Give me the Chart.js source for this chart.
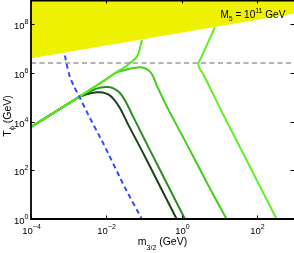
<!DOCTYPE html>
<html><head><meta charset="utf-8">
<script src="https://cdn.jsdelivr.net/npm/chart.js@4.4.0/dist/chart.umd.min.js"></script>
<style>html,body{margin:0;padding:0;background:#fff;}#wrap{width:294px;height:253px;position:relative;}</style>
</head><body><div id="wrap"><canvas id="c"></canvas></div>
<script>
// tick exponents (labels are 10^e)
const xTickExp = [-4, -2, 0, 2];
const yTickExp = [0, 2, 4, 6, 8];

// all values as log10(m_3/2 / GeV) and log10(T / GeV)
const darkLogM = [-4, -3.5, -3.0, -2.7, -2.45, -2.25, -2.1, -1.95, -1.8, -1.64, -1.42, -1.064, -0.6, -0.135];
const darkLogT = [3.78, 4.26, 4.75, 5.03, 5.16, 5.21, 5.2, 5.12, 4.92, 4.56, 3.88, 2.83, 1.42, 0];

const midLogM = [-4, -3.0, -2.6, -2.35, -2.15, -1.95, -1.8, -1.65, -1.5, -1.3, -0.843, -0.4, 0.085];
const midLogT = [3.78, 4.75, 5.12, 5.3, 5.4, 5.42, 5.36, 5.2, 4.86, 4.24, 2.83, 1.48, 0];

const lightLogM = [-4, -3, -2, -1.73, -1.5, -1.3, -1.1, -0.95, -0.8, -0.65, -0.4, 0.218, 0.7, 1.19];
const lightLogT = [3.78, 4.75, 5.75, 6.02, 6.12, 6.2, 6.24, 6.18, 5.98, 5.45, 4.64, 2.83, 1.4, 0];

const upLogM = [-4, -3, -2, -1.73, -1.55, -1.374, -1.196, -1.12, -1.056];
const upLogT = [3.78, 4.75, 5.75, 6.04, 6.2, 6.41, 6.65, 6.95, 7.36];

const rightLogM = [0.881, 0.72, 0.58, 0.48, 0.44, 0.47, 0.56, 0.68, 0.85, 1.1, 1.544, 2.0, 2.517];
const rightLogT = [7.88, 7.33, 6.85, 6.53, 6.4, 6.2, 5.98, 5.62, 5.08, 4.3, 2.96, 1.57, 0];

const blueLogM = [-3.10, -3.06, -2.97, -2.85, -2.70, -2.48, -2.08, -1.50, -1.06];
const blueLogT = [6.72, 6.40, 5.85, 5.42, 4.98, 4.28, 3.10, 1.27, 0];

const boundLogM = [-4, 3];
const boundLogT = [6.61, 8.45];

const grayLogM = [-4, 3];
const grayLogT = [6.41, 6.41];

const pts = (lm, lt) => lm.map((v, i) => ({x: Math.pow(10, v), y: Math.pow(10, lt[i])}));

const FONT = '"Liberation Sans", Arial, sans-serif';

function supText(ctx, base, exp, x, y, align, bs, es, rise) {
  ctx.font = bs + 'px ' + FONT;
  const wb = ctx.measureText(base).width;
  ctx.font = es + 'px ' + FONT;
  const we = ctx.measureText(exp).width;
  const tot = wb + we;
  let sx = align === 'center' ? x - tot / 2 : (align === 'right' ? x - tot : x);
  ctx.textAlign = 'left';
  ctx.textBaseline = 'alphabetic';
  ctx.font = bs + 'px ' + FONT;
  ctx.fillText(base, sx, y);
  ctx.font = es + 'px ' + FONT;
  ctx.fillText(exp, sx + wb, y - rise);
  return sx + tot;
}

const deco = {
  id: 'deco',
  afterDraw(chart) {
    const ctx = chart.ctx, a = chart.chartArea, xs = chart.scales.x, ys = chart.scales.y;
    ctx.save();
    ctx.fillStyle = '#000';
    ctx.strokeStyle = '#000';
    // ticks
    ctx.lineWidth = 1;
    xTickExp.forEach(e => {
      const px = Math.round(xs.getPixelForValue(Math.pow(10, e))) + 0.5;
      ctx.beginPath();
      ctx.moveTo(px, a.bottom); ctx.lineTo(px, a.bottom - 3.5);
      ctx.moveTo(px, a.top); ctx.lineTo(px, a.top + 3.5);
      ctx.stroke();
      supText(ctx, '10', String(e).replace('-', '\u2212'), px, a.bottom + 14.5, 'center', 9.5, 7, 5);
    });
    yTickExp.forEach(e => {
      const py = Math.round(ys.getPixelForValue(Math.pow(10, e))) + 0.5;
      ctx.beginPath();
      ctx.moveTo(a.left, py); ctx.lineTo(a.left + 3.5, py);
      ctx.moveTo(a.right, py); ctx.lineTo(a.right - 3.5, py);
      ctx.stroke();
      supText(ctx, '10', String(e), 28.5, py + 4.5, 'right', 9.5, 7, 5);
    });
    // box
    ctx.lineWidth = 1.8;
    ctx.beginPath();
    ctx.moveTo(a.right, a.top + 0.6);
    ctx.lineTo(a.left, a.top + 0.6);
    ctx.lineTo(a.left, a.bottom);
    ctx.lineTo(a.right, a.bottom);
    ctx.stroke();
    // x title
    ctx.textAlign = 'left'; ctx.textBaseline = 'alphabetic';
    ctx.font = '10.5px ' + FONT;
    const w1 = ctx.measureText('m').width;
    ctx.font = '7px ' + FONT;
    const w2 = ctx.measureText('3/2').width;
    ctx.font = '10.5px ' + FONT;
    const w3 = ctx.measureText(' (GeV)').width;
    let sx = (a.left + a.right) / 2 - (w1 + w2 + w3) / 2;
    ctx.fillText('m', sx, 245);
    ctx.font = '7px ' + FONT;
    ctx.fillText('3/2', sx + w1, 249.5);
    ctx.font = '10.5px ' + FONT;
    ctx.fillText(' (GeV)', sx + w1 + w2, 245);
    // y title
    ctx.save();
    ctx.translate(11, 116);
    ctx.rotate(-Math.PI / 2);
    ctx.font = '10.5px ' + FONT;
    const t1 = ctx.measureText('T').width;
    ctx.font = '7.5px ' + FONT;
    const t2 = ctx.measureText('\u03d5').width;
    ctx.font = '10.5px ' + FONT;
    const t3 = ctx.measureText(' (GeV)').width;
    let s = -(t1 + t2 + t3) / 2;
    ctx.fillText('T', s, 0);
    ctx.font = '7.5px ' + FONT;
    ctx.fillText('\u03d5', s + t1, 3);
    ctx.font = '10.5px ' + FONT;
    ctx.fillText(' (GeV)', s + t1 + t2, 0);
    ctx.restore();
    // M5 annotation
    ctx.font = '10px ' + FONT;
    let x0 = 220.5;
    ctx.fillText('M', x0, 17.5);
    x0 += ctx.measureText('M').width;
    ctx.font = '7px ' + FONT;
    ctx.fillText('5', x0, 21);
    x0 += ctx.measureText('5').width;
    ctx.font = '10px ' + FONT;
    ctx.fillText(' = 10', x0, 17.5);
    x0 += ctx.measureText(' = 10').width;
    ctx.font = '7px ' + FONT;
    ctx.fillText('11', x0, 12.5);
    x0 += ctx.measureText('11').width;
    ctx.font = '10px ' + FONT;
    ctx.fillText(' GeV', x0, 17.5);
    ctx.restore();
  }
};

const line = (lm, lt, color, extra) => Object.assign({
  data: pts(lm, lt), borderColor: color, borderWidth: 2, pointRadius: 0,
  fill: false, tension: 0.35
}, extra || {});

new Chart(document.getElementById('c'), {
  type: 'line',
  data: {
    datasets: [
      {data: pts(boundLogM, boundLogT), borderWidth: 0, borderColor: 'rgba(0,0,0,0)', pointRadius: 0,
       backgroundColor: '#eef200', fill: 'end', tension: 0},
      line(grayLogM, grayLogT, '#9a9a9a', {borderWidth: 1.4, borderDash: [5, 3.5], tension: 0}),
      line(blueLogM, blueLogT, '#2f4dff', {borderDash: [5, 3.5], tension: 0.2}),
      line(rightLogM, rightLogT, '#62ee22'),
      line(upLogM, upLogT, '#55e81c'),
      line(lightLogM, lightLogT, '#3fcf1a'),
      line(midLogM, midLogT, '#2a8f1e'),
      line(darkLogM, darkLogT, '#1a441a')
    ]
  },
  options: {
    responsive: true, maintainAspectRatio: false, animation: false,
    layout: {padding: {left: 31, right: 0, top: 0, bottom: 34}},
    plugins: {legend: {display: false}, tooltip: {enabled: false}},
    scales: {
      x: {type: 'logarithmic', min: 1e-4, max: Math.pow(10, 2.98), display: false},
      y: {type: 'logarithmic', min: 1, max: 1e9, display: false}
    }
  },
  plugins: [deco]
});
</script></body></html>
